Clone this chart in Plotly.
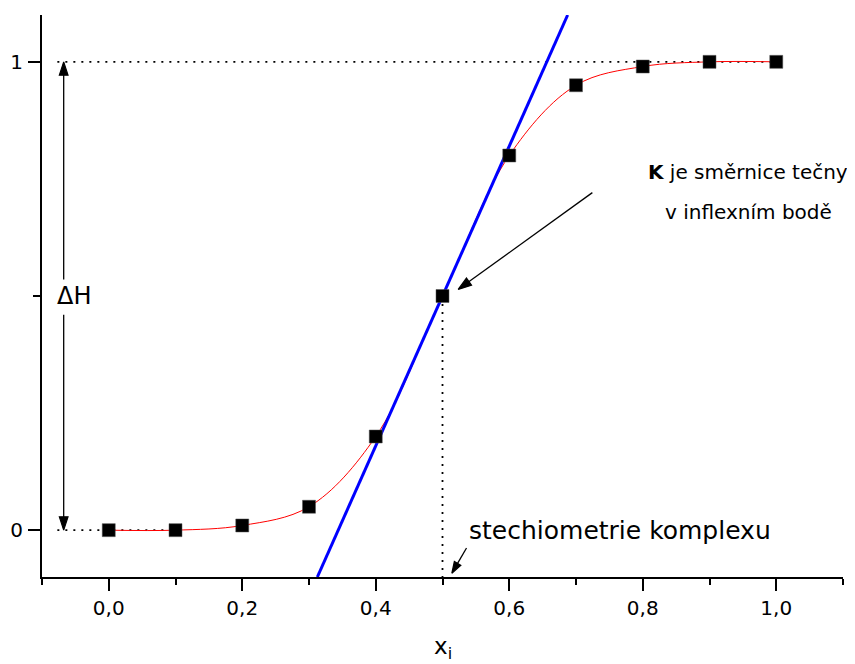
import plotly.graph_objects as go

# Data
x_vals = [0.0, 0.1, 0.2, 0.3, 0.4, 0.5, 0.6, 0.7, 0.8, 0.9, 1.0]
y_vals = [0.0, 0.0, 0.01, 0.05, 0.20, 0.50, 0.80, 0.95, 0.99, 1.0, 1.0]
tangent_x = [0.3125, 0.6875]
tangent_y = [-0.1, 1.1]
x_tick_vals = [0.0, 0.2, 0.4, 0.6, 0.8, 1.0]
x_tick_text = ["0,0", "0,2", "0,4", "0,6", "0,8", "1,0"]
x_minor_vals = [-0.1, 0.1, 0.3, 0.5, 0.7, 0.9, 1.1]
y_tick_vals = [0, 1]
y_tick_text = ["0", "1"]
y_minor_vals = [0.5]

FONT = "DejaVu Sans, Liberation Sans, Arial, sans-serif"
DOT = "2px,6px"

fig = go.Figure()

# guide dotted lines
fig.add_trace(go.Scatter(x=[-0.077, 1.0], y=[1, 1], mode="lines",
                         line=dict(color="black", width=1.8, dash=DOT), hoverinfo="skip"))
fig.add_trace(go.Scatter(x=[-0.077, 0.1], y=[0, 0], mode="lines",
                         line=dict(color="black", width=1.8, dash=DOT), hoverinfo="skip"))
fig.add_trace(go.Scatter(x=[0.5, 0.5], y=[0.5, -0.1], mode="lines",
                         line=dict(color="black", width=1.8, dash=DOT), hoverinfo="skip"))

# fit curve
fig.add_trace(go.Scatter(x=x_vals, y=y_vals, mode="lines",
                         line=dict(color="red", width=1, shape="spline", smoothing=1.0)))
# tangent
fig.add_trace(go.Scatter(x=tangent_x, y=tangent_y, mode="lines",
                         line=dict(color="#0000ff", width=3)))
# data points
fig.add_trace(go.Scatter(x=x_vals, y=y_vals, mode="markers",
                         marker=dict(symbol="square", size=13, color="black",
                                     line=dict(color="#555", width=0.5))))


def arrow(x0, y0, x1, y1, head=15):
    """Arrow from (x0, y0) to tip (x1, y1)."""
    fig.add_trace(go.Scatter(
        x=[x0, x1], y=[y0, y1], mode="lines+markers",
        line=dict(color="black", width=1.3),
        marker=dict(symbol="arrow", size=[0, head], color="black", opacity=1,
                    angleref="previous", line=dict(width=1.2, color="black")),
        hoverinfo="skip"))


# Delta H double arrow
ax_x = -0.0675
arrow(ax_x, 0.535, ax_x, 1.0, head=14)
arrow(ax_x, 0.46, ax_x, 0.0, head=14)
fig.add_annotation(x=-0.052, y=0.5, xref="x", yref="y", text="ΔH", showarrow=False,
                   font=dict(family=FONT, size=24, color="black"))

# K annotation
arrow(0.7245, 0.7207, 0.5235, 0.514, head=14)
fig.add_annotation(x=0.958, y=0.765, xref="x", yref="y", text="<b>K</b> je směrnice tečny",
                   showarrow=False, font=dict(family=FONT, size=20, color="black"))
fig.add_annotation(x=0.958, y=0.68, xref="x", yref="y", text="v inflexním bodě",
                   showarrow=False, font=dict(family=FONT, size=20, color="black"))

# stechiometrie annotation
arrow(0.536, -0.038, 0.514, -0.092, head=12)
fig.add_annotation(x=0.537, y=0.0, xref="x", yref="y", text="stechiometrie komplexu",
                   xanchor="left", yanchor="middle", showarrow=False,
                   font=dict(family=FONT, size=25, color="black"))

# x axis title
fig.add_annotation(x=0.5, y=-0.096, xref="x", yref="paper", text="x<sub>i</sub>",
                   xanchor="center", yanchor="top", showarrow=False,
                   font=dict(family=FONT, size=23, color="black"))

# page body has an 8px margin, so margins are offset accordingly
fig.update_layout(
    width=855, height=664,
    margin=dict(l=34, r=20, t=7, b=95),
    plot_bgcolor="white", paper_bgcolor="white",
    showlegend=False,
    font=dict(family=FONT, color="black"),
)
fig.update_xaxes(
    range=[-0.1, 1.1], showgrid=False, zeroline=False, automargin=False,
    showline=True, linecolor="black", linewidth=2,
    tickmode="array", tickvals=x_tick_vals, ticktext=x_tick_text,
    ticks="outside", ticklen=12, tickwidth=2, tickcolor="black",
    tickfont=dict(family=FONT, size=20), ticklabelstandoff=0,
    minor=dict(tickvals=x_minor_vals, ticklen=6, tickwidth=2,
               tickcolor="black", ticks="outside", showgrid=False),
)
fig.update_yaxes(
    range=[-0.1, 1.1], showgrid=False, zeroline=False, automargin=False,
    showline=True, linecolor="black", linewidth=2,
    tickmode="array", tickvals=y_tick_vals, ticktext=y_tick_text,
    ticks="outside", ticklen=12, tickwidth=2, tickcolor="black",
    tickfont=dict(family=FONT, size=20), ticklabelstandoff=1,
    minor=dict(tickvals=y_minor_vals, ticklen=7, tickwidth=2, tickcolor="black",
               ticks="outside", showgrid=False),
)

fig.write_html("out.html")
